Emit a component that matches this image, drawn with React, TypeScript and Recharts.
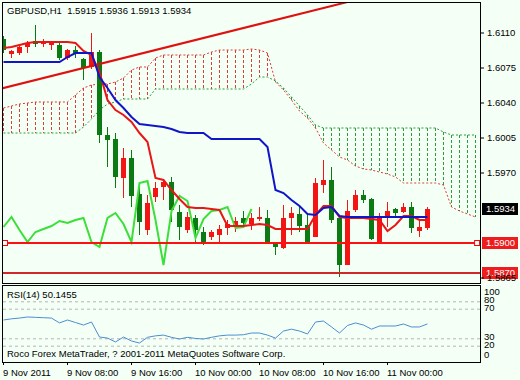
import React from "react";
import {
  Bar,
  ComposedChart,
  Line,
  ReferenceDot,
  ReferenceLine,
  XAxis,
  YAxis,
} from "recharts";

const FONT = '"Liberation Sans", Arial, sans-serif';
const BG = "#f4fff6";
const CLOUD_DOWN = "#dc3c3c";
const CLOUD_UP = "#2c9c3c";

// hourly GBPUSD bars, 9 Nov 00:00 .. 11 Nov 05:00
const opens = [
  1.6104, 1.6089, 1.609, 1.6096, 1.6102, 1.6099, 1.6098, 1.6098, 1.6085, 1.6093,
  1.6084, 1.6076, 1.6091, 1.6008, 1.6004, 1.5965, 1.5985, 1.5949, 1.5913, 1.5946,
  1.5956, 1.5961, 1.5931, 1.5913, 1.5925, 1.5911, 1.5906, 1.5908, 1.5915, 1.5918,
  1.5925, 1.5919, 1.5924, 1.5925, 1.59, 1.5895, 1.5925, 1.5929, 1.5918, 1.5906,
  1.5958, 1.5963, 1.5925, 1.5878, 1.5933, 1.5948, 1.5944, 1.5901, 1.5926, 1.5934,
  1.5931, 1.5936, 1.5912, 1.5915,
];
const highs = [
  1.6107, 1.6093, 1.6097, 1.6102, 1.6118, 1.6104, 1.6102, 1.61, 1.6094, 1.6097,
  1.6085, 1.611, 1.6093, 1.6016, 1.601, 1.5995, 1.5993, 1.596, 1.5948, 1.5961,
  1.5963, 1.5966, 1.5938, 1.5931, 1.5928, 1.5916, 1.5913, 1.5918, 1.5923, 1.5926,
  1.5932, 1.593, 1.5936, 1.5933, 1.5901, 1.5938, 1.5936, 1.5938, 1.5928, 1.5965,
  1.5983, 1.5976, 1.5926, 1.5943, 1.5953, 1.5953, 1.5945, 1.593, 1.5941, 1.5935,
  1.594, 1.5941, 1.5923, 1.5936,
];
const lows = [
  1.609, 1.6085, 1.6088, 1.609, 1.6096, 1.6096, 1.6093, 1.6083, 1.6083, 1.6085,
  1.6063, 1.6074, 1.6, 1.5976, 1.5955, 1.5945, 1.5936, 1.5908, 1.5908, 1.5941,
  1.5943, 1.5921, 1.5903, 1.591, 1.5901, 1.5898, 1.5903, 1.59, 1.5908, 1.5911,
  1.5915, 1.5913, 1.5922, 1.5899, 1.5888, 1.5894, 1.5908, 1.5911, 1.5899, 1.5906,
  1.595, 1.592, 1.5866, 1.5878, 1.5931, 1.594, 1.5903, 1.59, 1.5916, 1.5926,
  1.593, 1.591, 1.5906, 1.5913,
];
const closes = [
  1.6093, 1.6092, 1.6096, 1.61, 1.6099, 1.6101, 1.6101, 1.6085, 1.6093, 1.609,
  1.6075, 1.6091, 1.6008, 1.6003, 1.5966, 1.5985, 1.5947, 1.5921, 1.594, 1.5955,
  1.5961, 1.5933, 1.5916, 1.5926, 1.5913, 1.5901, 1.5911, 1.5914, 1.5919, 1.5922,
  1.592, 1.5925, 1.5926, 1.5901, 1.5896, 1.5925, 1.593, 1.5917, 1.5901, 1.596,
  1.5963, 1.5923, 1.5878, 1.5932, 1.5948, 1.5943, 1.5904, 1.5926, 1.5932, 1.593,
  1.5936, 1.5915, 1.5916, 1.5934,
];

// Ichimoku lines
const tenkan = [
  1.6095, 1.6096, 1.6098, 1.61, 1.6101, 1.6101, 1.6101, 1.6101, 1.6101, 1.61,
  1.6092, 1.6088, 1.6071, 1.6043, 1.6033, 1.6028, 1.6021, 1.601, 1.6001, 1.5965,
  1.5963, 1.5953, 1.5944, 1.5936, 1.5935, 1.5935, 1.5934, 1.5933, 1.5917, 1.5917,
  1.5917, 1.5918, 1.5919, 1.5918, 1.5914, 1.5914, 1.5914, 1.5914, 1.5914, 1.5928,
  1.5937, 1.5937, 1.5926, 1.5925, 1.5925, 1.5925, 1.5924, 1.5923, 1.5912, 1.5918,
  1.5927, 1.5927, 1.5923, 1.5923,
];
const kijun = [
  1.6081, 1.6081, 1.6081, 1.6081, 1.6081, 1.6081, 1.6081, 1.6081, 1.6086, 1.609,
  1.609, 1.609, 1.6066, 1.6055, 1.6043, 1.6035, 1.6026, 1.6019, 1.6018, 1.6017,
  1.6016, 1.6014, 1.6011, 1.601, 1.601, 1.601, 1.6004, 1.6004, 1.6004, 1.6004,
  1.6004, 1.6004, 1.6004, 1.5996, 1.5953, 1.595, 1.5943, 1.5937, 1.5929, 1.5928,
  1.5935, 1.5936, 1.5927, 1.5926, 1.5926, 1.5926, 1.5926, 1.5926, 1.5926, 1.5926,
  1.5926, 1.5926, 1.5926, 1.5926,
];
const chikou = [
  1.5916, 1.5926, 1.5913, 1.5901, 1.5911, 1.5914, 1.5917, 1.5922, 1.592, 1.5923,
  1.5925, 1.5901, 1.5896, 1.5925, 1.593, 1.5919, 1.5901, 1.596, 1.5962, 1.5923,
  1.5878, 1.5932, 1.5947, 1.5942, 1.5905, 1.5924, 1.5932, 1.5933, 1.5936, 1.5915,
  1.5916, 1.5934,
];
const spanA = [
  1.6035, 1.6037, 1.6039, 1.604, 1.6041, 1.6041, 1.6041, 1.6041, 1.6041, 1.6048,
  1.6055, 1.6058, 1.6059, 1.6059, 1.6061, 1.6065, 1.6073, 1.6076, 1.6076, 1.6085,
  1.6088, 1.6088, 1.6088, 1.6088, 1.6088, 1.6088, 1.6091, 1.6093, 1.6093, 1.6093,
  1.6093, 1.6094, 1.6093, 1.609, 1.6061, 1.6053, 1.6043, 1.6032, 1.6025, 1.6015,
  1.6, 1.5993, 1.5986, 1.5983, 1.5977, 1.5974, 1.5973, 1.5971, 1.5969, 1.5966,
  1.596, 1.596, 1.596, 1.596, 1.596, 1.5958, 1.5936, 1.5932, 1.5929, 1.5926,
];
const spanB = [
  1.601, 1.601, 1.601, 1.601, 1.601, 1.601, 1.601, 1.601, 1.601, 1.601,
  1.6016, 1.6024, 1.6033, 1.6039, 1.6041, 1.6044, 1.6044, 1.6044, 1.6044, 1.6054,
  1.6054, 1.6054, 1.6054, 1.6054, 1.6054, 1.6054, 1.6054, 1.6054, 1.6054, 1.6054,
  1.6054, 1.6059, 1.6066, 1.6066, 1.6062, 1.6055, 1.6046, 1.6037, 1.6028, 1.6018,
  1.6015, 1.6015, 1.6015, 1.6015, 1.6015, 1.6015, 1.6015, 1.6015, 1.6015, 1.6015,
  1.6015, 1.6015, 1.6015, 1.6015, 1.6015, 1.6011, 1.6008, 1.6008, 1.6008, 1.6008,
];
const rsi = [
  55.4, 57, 58, 59.5, 59, 58.5, 58, 51.5, 55.4, 52, 48.6, 52.7, 32.4, 31, 25.7,
  32.4, 27, 24.3, 32, 34, 35, 32, 29.7, 32, 30.5, 29.7, 32, 34, 35, 35, 35.5,
  37.8, 37.8, 35, 31, 40.5, 43, 40.5, 36.5, 52.7, 54, 46, 37.8, 48, 51.4, 48.6,
  43, 47.3, 47.3, 47.3, 50, 46, 46, 50.1455,
];

const priceTicks = [1.611, 1.6075, 1.604, 1.6005, 1.597, 1.5865];
const rsiTicks = [100, 80, 70, 30, 20, 0];
const rsiLevels = [80, 70, 30, 20];
const timeTicks = [0, 8, 16, 24, 32, 40, 48];
const timeLabels = [
  "9 Nov 2011",
  "9 Nov 08:00",
  "9 Nov 16:00",
  "10 Nov 00:00",
  "10 Nov 08:00",
  "10 Nov 16:00",
  "11 Nov 00:00",
];
const trendFrom = { bar: -1, price: 1.6053 };
const trendTo = { bar: 50, price: 1.6155 };
const level1 = 1.59;
const level2 = 1.587;
const bid = 1.5934;

const X_DOMAIN: [number, number] = [-0.1875, 59.5625];
const P_DOMAIN: [number, number] = [1.586, 1.6141];
const R_DOMAIN: [number, number] = [-1.35, 102.7];

const rows = spanA.map((a, i) => ({
  i,
  candle: i < opens.length ? [lows[i], highs[i]] : undefined,
  o: opens[i],
  h: highs[i],
  l: lows[i],
  c: closes[i],
  tenkan: tenkan[i],
  kijun: kijun[i],
  chikou: chikou[i],
  spanA: a,
  spanB: spanB[i],
  cloud: [Math.min(a, spanB[i]), Math.max(a, spanB[i])],
  rsi: rsi[i],
}));

const fmt = (v: number) => v.toFixed(4);

function Candle(props: any) {
  const { x, y, width, height, payload } = props;
  if (!payload || payload.o == null) return null;
  const { o, h, l, c } = payload;
  const top = Math.min(y, y + height);
  const span = Math.abs(height);
  const k = h - l > 0 ? span / (h - l) : 0;
  const yOf = (v: number) => top + (h - v) * k;
  const color = c >= o ? "#f41414" : "#0b7a12";
  const cx = Math.floor(x + width / 2) + 0.5;
  const bodyTop = yOf(Math.max(o, c));
  const bodyH = Math.max(1, yOf(Math.min(o, c)) - bodyTop);
  return (
    <g>
      <line x1={cx} x2={cx} y1={yOf(h)} y2={yOf(l)} stroke={color} />
      <rect x={cx - 2.5} y={bodyTop} width={5} height={bodyH} fill={color} />
    </g>
  );
}

// one dashed vertical hatch per bar between the two cloud spans
function Hatch(props: any) {
  const { x, y, width, height, payload } = props;
  if (!payload) return null;
  const cx = Math.floor(x + width / 2) + 0.5;
  const top = Math.min(y, y + height);
  const bottom = Math.max(y, y + height);
  const color = payload.spanA >= payload.spanB ? CLOUD_DOWN : CLOUD_UP;
  return (
    <line x1={cx} x2={cx} y1={top} y2={bottom} stroke={color} strokeDasharray="3 2" />
  );
}

function PriceTick({ x, y, payload }: any) {
  return (
    <g>
      <line x1={x} x2={x + 4} y1={y} y2={y} stroke="#000" />
      <text x={x + 7} y={y} dy="0.35em" fontSize={9.5} fill="#000" fontFamily={FONT}>
        {fmt(payload.value)}
      </text>
    </g>
  );
}

function RsiTick({ x, y, payload }: any) {
  const v = payload.value;
  const shift = v === 100 ? 5 : v === 0 ? -6 : -2;
  return (
    <text x={x + 4} y={y + shift} dy="0.35em" fontSize={9.5} fill="#000" fontFamily={FONT}>
      {v}
    </text>
  );
}

function TimeTick({ x, y, payload }: any) {
  const label = timeLabels[timeTicks.indexOf(payload.value)];
  return (
    <g>
      <line x1={x} x2={x} y1={y} y2={y + 3} stroke="#000" />
      <text x={x - 0.5} y={y + 13.5} fontSize={9.5} fill="#000" fontFamily={FONT}>
        {label}
      </text>
    </g>
  );
}

function PriceTag({ viewBox, text, bg }: any) {
  if (!viewBox) return null;
  const x = viewBox.x + viewBox.width + 2;
  const y = viewBox.y;
  return (
    <g>
      <rect x={x} y={y - 6} width={36} height={12} fill={bg} />
      <text x={x + 4} y={y} dy="0.35em" fill="#fff" fontSize={9.5} fontFamily={FONT}>
        {text}
      </text>
    </g>
  );
}

function Handle({ cx, cy }: any) {
  return <rect x={cx - 2.5} y={cy - 2.5} width={5} height={5} fill="#fff" stroke="#f00" />;
}

const textStyle: React.CSSProperties = {
  position: "absolute",
  left: 7,
  fontSize: 9.5,
  lineHeight: "12px",
  color: "#000",
  whiteSpace: "pre",
};

const layer: React.CSSProperties = { position: "absolute", left: 0, top: 0 };

export default function App() {
  return (
    <div
      style={{
        position: "absolute",
        left: 0,
        top: 0,
        width: 520,
        height: 380,
        background: BG,
        fontFamily: FONT,
        overflow: "hidden",
      }}
    >
      {/* cloud layer */}
      <div style={layer}>
        <ComposedChart
          width={520}
          height={285}
          data={rows}
          margin={{ top: 2, right: 40, bottom: 2, left: 2 }}
        >
          <XAxis type="number" dataKey="i" domain={X_DOMAIN} allowDataOverflow hide />
          <YAxis domain={P_DOMAIN} allowDataOverflow hide />
          <Bar dataKey="cloud" barSize={1} shape={<Hatch />} isAnimationActive={false} />
          <Line dataKey="spanA" stroke={CLOUD_DOWN} strokeDasharray="2 2" strokeWidth={1} dot={false} isAnimationActive={false} />
          <Line dataKey="spanB" stroke={CLOUD_UP} strokeDasharray="2 2" strokeWidth={1} dot={false} isAnimationActive={false} />
        </ComposedChart>
      </div>

      {/* price layer */}
      <div style={layer}>
        <ComposedChart
          width={520}
          height={285}
          data={rows}
          margin={{ top: 2, right: 0, bottom: 2, left: 2 }}
        >
          <XAxis type="number" dataKey="i" domain={X_DOMAIN} allowDataOverflow hide />
          <YAxis
            orientation="right"
            domain={P_DOMAIN}
            allowDataOverflow
            ticks={priceTicks}
            interval={0}
            width={40}
            axisLine={false}
            tickLine={false}
            tickSize={0}
            tickMargin={0}
            tick={<PriceTick />}
          />
          <ReferenceLine
            segment={[
              { x: trendFrom.bar, y: trendFrom.price },
              { x: trendTo.bar, y: trendTo.price },
            ]}
            stroke="#e01010"
            strokeWidth={2}
            ifOverflow="hidden"
          />
          <Bar dataKey="candle" barSize={5} shape={<Candle />} isAnimationActive={false} />
          <Line dataKey="chikou" stroke="#3ede3a" strokeWidth={2} dot={false} isAnimationActive={false} />
          <Line dataKey="tenkan" stroke="#e81616" strokeWidth={2} dot={false} isAnimationActive={false} />
          <Line dataKey="kijun" stroke="#1016c8" strokeWidth={2} dot={false} isAnimationActive={false} />
          <ReferenceLine y={level2} stroke="#d02828" strokeWidth={2} label={<PriceTag text={fmt(level2)} bg="#ee1c1c" />} />
          <ReferenceLine y={level1} stroke="#ff1010" strokeWidth={2} label={<PriceTag text={fmt(level1)} bg="#ee1c1c" />} />
          <ReferenceLine y={bid} stroke="none" label={<PriceTag text={fmt(bid)} bg="#000" />} />
          <ReferenceDot x={0.19} y={level1} shape={<Handle />} />
          <ReferenceDot x={59.2} y={level1} shape={<Handle />} />
        </ComposedChart>
      </div>

      {/* RSI panel */}
      <div style={{ position: "absolute", left: 0, top: 283 }}>
        <ComposedChart
          width={520}
          height={97}
          data={rows}
          margin={{ top: 2, right: 0, bottom: 0, left: 2 }}
        >
          <XAxis
            type="number"
            dataKey="i"
            domain={X_DOMAIN}
            allowDataOverflow
            ticks={timeTicks}
            interval={0}
            height={18}
            axisLine={false}
            tickLine={false}
            tickSize={0}
            tickMargin={0}
            tick={<TimeTick />}
          />
          <YAxis
            orientation="right"
            domain={R_DOMAIN}
            allowDataOverflow
            ticks={rsiTicks}
            interval={0}
            width={40}
            axisLine={false}
            tickLine={false}
            tickSize={0}
            tickMargin={0}
            tick={<RsiTick />}
          />
          {rsiLevels.map((lv) => (
            <ReferenceLine key={lv} y={lv} stroke="#b4b4b4" strokeDasharray="3 3" />
          ))}
          <Line dataKey="rsi" stroke="#4a8ed0" strokeWidth={1} dot={false} isAnimationActive={false} />
        </ComposedChart>
      </div>

      <div
        style={{
          position: "absolute",
          left: 2,
          top: 2,
          width: 479,
          height: 282,
          border: "1px solid #000",
          boxSizing: "border-box",
          pointerEvents: "none",
        }}
      />
      <div
        style={{
          position: "absolute",
          left: 2,
          top: 285,
          width: 479,
          height: 78,
          border: "1px solid #000",
          boxSizing: "border-box",
          pointerEvents: "none",
        }}
      />

      <span style={{ ...textStyle, top: 5 }}>
        {`GBPUSD,H1  ${fmt(opens[53])} ${fmt(highs[53])} ${fmt(lows[53])} ${fmt(closes[53])}`}
      </span>
      <span style={{ ...textStyle, top: 289 }}>RSI(14) 50.1455</span>
      <span style={{ ...textStyle, top: 348 }}>
        Roco Forex MetaTrader, ? 2001-2011 MetaQuotes Software Corp.
      </span>
    </div>
  );
}
